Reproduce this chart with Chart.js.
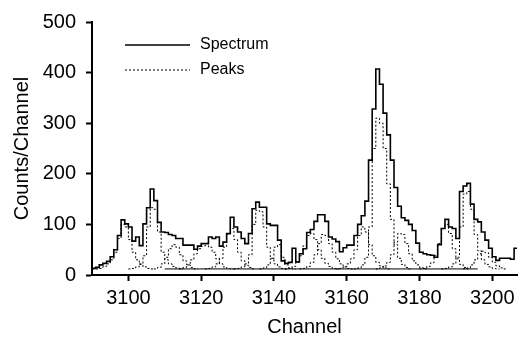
<!DOCTYPE html>
<html>
<head>
<meta charset="utf-8">
<script src="https://cdn.jsdelivr.net/npm/chart.js@4.4.1/dist/chart.umd.min.js"></script>
<style>
  html, body { margin: 0; padding: 0; background: #fff; }
  #wrap { width: 531px; height: 337px; }
</style>
</head>
<body>
<div id="wrap"><canvas id="spectrumChart"></canvas></div>
<script>
// measured spectrum, one bin per channel starting at firstChannel
const firstChannel = 3090;
const spectrumCounts = [
    13, 15, 20, 23, 27, 36, 50, 78, 109, 101,
    95, 67, 75, 58, 101, 133, 170, 147, 104, 85,
    84, 80, 78, 72, 72, 59, 59, 59, 51, 57,
    62, 62, 75, 72, 75, 57, 65, 82, 114, 95,
    85, 72, 62, 82, 131, 144, 134, 134, 101, 98,
    98, 69, 28, 23, 25, 53, 26, 42, 52, 84,
    90, 106, 119, 119, 106, 75, 71, 66, 46, 54,
    59, 59, 78, 100, 117, 146, 227, 328, 407, 377,
    320, 277, 227, 173, 136, 113, 108, 100, 88, 63,
    45, 42, 40, 39, 35, 60, 92, 110, 95, 92,
    72, 165, 176, 181, 140, 110, 105, 85, 69, 53,
    36, 29, 33, 33, 33, 31, 53
];

// fitted peaks (first channel of each + counts)
const peakStarts = [3090, 3100, 3107, 3114, 3121, 3129, 3136, 3143, 3147, 3157, 3162, 3168, 3180, 3186, 3192];
const peakA = [12, 12, 13, 17, 22, 30, 45, 72, 100, 95, 70, 45, 30, 21, 16, 13, 12];
const peakB = [12, 13, 16, 22, 38, 95, 133, 130, 85, 45, 30, 22, 17, 14, 12];
const peakC = [12, 15, 22, 35, 52, 60, 55, 40, 28, 20, 15, 12];
const peakD = [12, 15, 20, 30, 42, 52, 57, 58, 55, 45, 32, 22, 16, 13, 12];
const peakE = [12, 13, 16, 22, 33, 55, 80, 92, 70, 45, 28, 19, 15, 12];
const peakF = [12, 13, 16, 22, 40, 100, 128, 125, 95, 55, 33, 22, 16, 13, 12];
const peakG = [12, 14, 20, 32, 55, 60, 35, 20, 14, 12];
const peakH = [12, 13, 17, 25, 38, 58, 78, 82, 70, 50, 33, 23, 17, 13, 12];
const peakI = [12, 13, 17, 25, 40, 62, 80, 78, 62, 45, 32, 22, 16, 13, 12];
const peakJ = [12, 13, 16, 22, 32, 50, 78, 95, 85, 60, 38, 25, 18, 14, 12];
const peakK = [12, 14, 20, 35, 95, 250, 310, 300, 250, 180, 110, 60, 33, 21, 15, 12];
const peakL = [12, 14, 18, 25, 40, 65, 82, 80, 62, 42, 28, 20, 15, 12];
const peakM = [12, 13, 17, 24, 38, 62, 92, 100, 82, 52, 32, 21, 15, 12];
const peakN = [12, 13, 16, 22, 35, 95, 160, 165, 130, 80, 48, 30, 21, 16, 13, 12];
const peakO = [12, 14, 20, 30, 42, 47, 44, 35, 25, 18, 14, 12];
const peakCounts = [peakA, peakB, peakC, peakD, peakE, peakF, peakG, peakH, peakI, peakJ, peakK, peakL, peakM, peakN, peakO];

const baselineChannels = [3110, 3196];
const baselineCounts = [12, 12];

const xTicks = [3100, 3120, 3140, 3160, 3180, 3200];
const yTicks = [0, 100, 200, 300, 400, 500];

function toSteps(start, counts) {
    const pts = counts.map((c, i) => ({ x: start + i, y: c }));
    pts.push({ x: start + counts.length, y: counts[counts.length - 1] });
    return pts;
}

Chart.defaults.font.family = '"Liberation Sans", Arial, Helvetica, sans-serif';
Chart.defaults.color = '#000';

const datasets = [{
    label: 'Spectrum',
    data: toSteps(firstChannel, spectrumCounts),
    stepped: true,
    borderColor: '#000',
    borderWidth: 1.6,
    pointRadius: 0,
    fill: false
}];
peakCounts.forEach((counts, i) => {
    datasets.push({
        label: 'Peaks',
        data: toSteps(peakStarts[i], counts),
        stepped: true,
        borderColor: '#000',
        borderWidth: 1,
        borderDash: [2, 2],
        pointRadius: 0,
        fill: false
    });
});
datasets.push({
    label: 'Background',
    data: baselineChannels.map((c, i) => ({ x: c, y: baselineCounts[i] })),
    borderColor: '#000',
    borderWidth: 1,
    pointRadius: 0,
    fill: false
});

// legend drawn inside the plot, like the original
const insideLegend = {
    id: 'insideLegend',
    afterDatasetsDraw(chart, args, opts) {
        const ctx = chart.ctx;
        const shown = ['Spectrum', 'Peaks'].map(l => chart.data.datasets.find(d => d.label === l));
        ctx.save();
        ctx.font = '16px "Liberation Sans", Arial, sans-serif';
        ctx.fillStyle = '#000';
        ctx.strokeStyle = '#000';
        ctx.textBaseline = 'middle';
        shown.forEach((ds, i) => {
            const y = opts.y + i * opts.rowGap;
            ctx.beginPath();
            ctx.setLineDash(ds.borderDash || []);
            ctx.lineWidth = ds.borderWidth;
            ctx.moveTo(opts.x, y);
            ctx.lineTo(opts.x + opts.lineLength, y);
            ctx.stroke();
            ctx.setLineDash([]);
            ctx.fillText(ds.label, opts.x + opts.lineLength + opts.gap, y);
        });
        ctx.restore();
    }
};

new Chart(document.getElementById('spectrumChart'), {
    type: 'line',
    data: { datasets },
    plugins: [insideLegend],
    options: {
        responsive: true,
        maintainAspectRatio: false,
        animation: false,
        layout: { padding: { top: 20, right: 14, left: 0, bottom: 0 } },
        plugins: {
            legend: { display: false },
            tooltip: { enabled: false },
            insideLegend: { x: 125, y: 45, rowGap: 25, lineLength: 65, gap: 10 }
        },
        scales: {
            x: {
                type: 'linear',
                min: 3090,
                max: 3206.8,
                afterBuildTicks: s => { s.ticks = xTicks.map(v => ({ value: v })); },
                afterFit: s => { s.height = 62; },
                ticks: { font: { size: 20 }, color: '#000', padding: 5, maxRotation: 0, autoSkip: false, callback: v => String(v) },
                grid: { drawOnChartArea: false, drawTicks: true, tickLength: 6, tickWidth: 2, tickColor: '#000' },
                border: { display: true, color: '#000', width: 2 },
                title: { display: true, text: 'Channel', font: { size: 20, lineHeight: 1 }, color: '#000', padding: 0 }
            },
            y: {
                min: 0,
                max: 500,
                afterBuildTicks: s => { s.ticks = yTicks.map(v => ({ value: v })); },
                afterFit: s => { s.width = 92; },
                ticks: { font: { size: 20 }, color: '#000', padding: 10, callback: v => String(v) },
                grid: { drawOnChartArea: false, drawTicks: true, tickLength: 6, tickWidth: 2, tickColor: '#000' },
                border: { display: true, color: '#000', width: 2 },
                title: { display: true, text: 'Counts/Channel', font: { size: 20, lineHeight: 1 }, color: '#000', padding: { top: 12, bottom: 0 } }
            }
        }
    }
});
</script>
</body>
</html>
